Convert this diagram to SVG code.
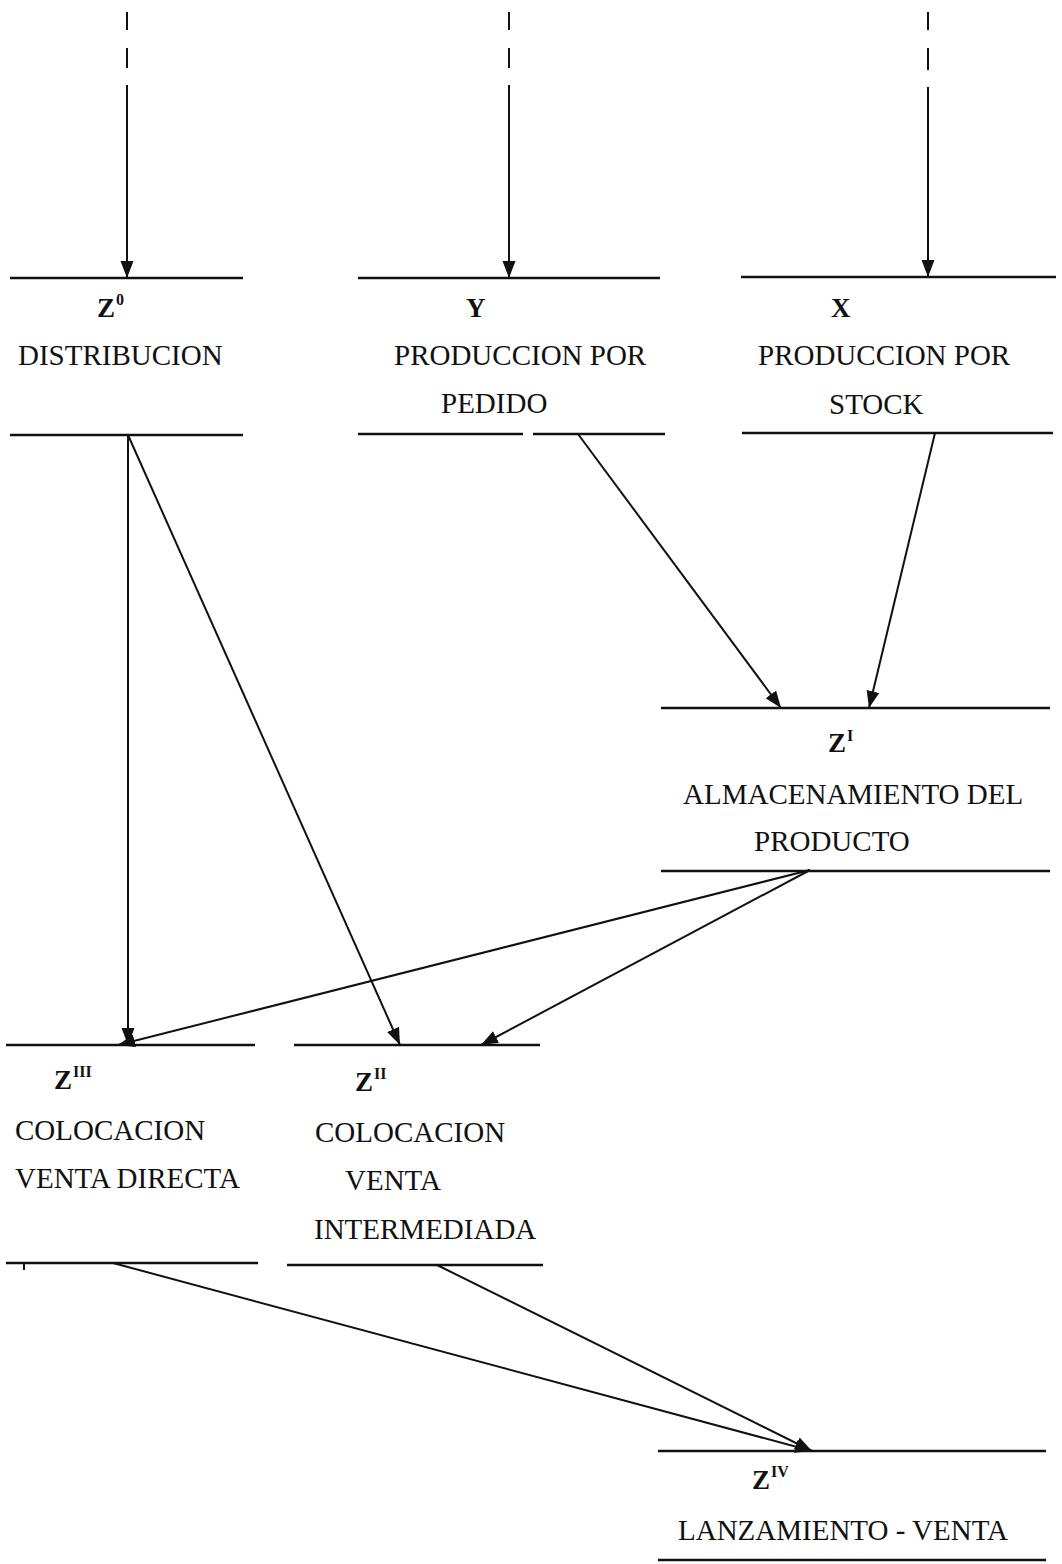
<svg xmlns="http://www.w3.org/2000/svg" width="1062" height="1564" viewBox="0 0 1062 1564">
<style>
.bar{stroke:#111;stroke-width:2.6;fill:none}
.con{stroke:#111;stroke-width:2;fill:none}
.lbl{font-family:"Liberation Serif","Times New Roman",serif;font-size:29px;fill:#111}
.id{font-family:"Liberation Serif","Times New Roman",serif;font-size:27px;font-weight:bold;fill:#111}
.sup{font-family:"Liberation Serif","Times New Roman",serif;font-size:16px;font-weight:bold;fill:#111}
</style>
<defs>
<marker id="ah" markerUnits="userSpaceOnUse" markerWidth="18" markerHeight="14" refX="17" refY="7" orient="auto">
<path d="M0,0.5 L17,7 L0,13.5 z" fill="#111"/>
</marker>
</defs>
<rect width="1062" height="1564" fill="#fff"/>

<g id="connectors">
<path class="con" d="M127,12 V30 M127,48 V68"/>
<line class="con" x1="127" y1="85" x2="127" y2="278" marker-end="url(#ah)"/>
<path class="con" d="M509,12 V30 M509,48 V68"/>
<line class="con" x1="509" y1="85" x2="509" y2="278" marker-end="url(#ah)"/>
<path class="con" d="M928,12 V30 M928,48 V70"/>
<line class="con" x1="928" y1="87" x2="928" y2="277" marker-end="url(#ah)"/>
<line class="con" x1="128" y1="435" x2="128" y2="1045" marker-end="url(#ah)"/>
<line class="con" x1="128" y1="435" x2="400" y2="1045" marker-end="url(#ah)"/>
<line class="con" x1="578" y1="434" x2="781" y2="708" marker-end="url(#ah)"/>
<line class="con" x1="935" y1="433" x2="869" y2="708" marker-end="url(#ah)"/>
<line class="con" x1="810" y1="870" x2="118" y2="1045" marker-end="url(#ah)"/>
<line class="con" x1="810" y1="870" x2="481" y2="1045" marker-end="url(#ah)"/>
<line class="con" x1="113" y1="1263" x2="812" y2="1451" marker-end="url(#ah)"/>
<line class="con" x1="437" y1="1265" x2="812" y2="1451" marker-end="url(#ah)"/>
</g>

<g id="node-z0">
<line class="bar" x1="10" y1="278" x2="243" y2="278"/>
<text class="id" x="97" y="317">Z</text><text class="sup" x="116" y="305">0</text>
<text class="lbl" x="18" y="365">DISTRIBUCION</text>
<line class="bar" x1="10" y1="435" x2="243" y2="435"/>
</g>

<g id="node-y">
<line class="bar" x1="358" y1="278" x2="660" y2="278"/>
<text class="id" x="466" y="317">Y</text>
<text class="lbl" x="394" y="365">PRODUCCION POR</text>
<text class="lbl" x="441" y="413">PEDIDO</text>
<line class="bar" x1="358" y1="434" x2="523" y2="434"/>
<line class="bar" x1="533" y1="434" x2="665" y2="434"/>
</g>

<g id="node-x">
<line class="bar" x1="741" y1="277" x2="1056" y2="277"/>
<text class="id" x="831" y="317">X</text>
<text class="lbl" x="758" y="365">PRODUCCION POR</text>
<text class="lbl" x="829" y="414">STOCK</text>
<line class="bar" x1="742" y1="433" x2="1053" y2="433"/>
</g>

<g id="node-z1">
<line class="bar" x1="661" y1="708" x2="1050" y2="708"/>
<text class="id" x="828" y="752">Z</text><text class="sup" x="847" y="741">I</text>
<text class="lbl" x="683" y="804">ALMACENAMIENTO DEL</text>
<text class="lbl" x="754" y="851">PRODUCTO</text>
<line class="bar" x1="661" y1="871" x2="1050" y2="871"/>
</g>

<g id="node-z3">
<line class="bar" x1="6" y1="1045" x2="255" y2="1045"/>
<text class="id" x="54" y="1089">Z</text><text class="sup" x="73" y="1077">III</text>
<text class="lbl" x="15" y="1140">COLOCACION</text>
<text class="lbl" x="15" y="1188">VENTA DIRECTA</text>
<line class="bar" x1="6" y1="1263" x2="258" y2="1263"/>
<line class="con" x1="24" y1="1263" x2="24" y2="1270"/>
</g>

<g id="node-z2">
<line class="bar" x1="294" y1="1045" x2="540" y2="1045"/>
<text class="id" x="355" y="1091">Z</text><text class="sup" x="374" y="1079">II</text>
<text class="lbl" x="315" y="1142">COLOCACION</text>
<text class="lbl" x="345" y="1190">VENTA</text>
<text class="lbl" x="314" y="1239">INTERMEDIADA</text>
<line class="bar" x1="287" y1="1265" x2="543" y2="1265"/>
</g>

<g id="node-z4">
<line class="bar" x1="658" y1="1451" x2="1046" y2="1451"/>
<text class="id" x="752" y="1489">Z</text><text class="sup" x="771" y="1477">IV</text>
<text class="lbl" x="678" y="1540">LANZAMIENTO - VENTA</text>
<line class="bar" x1="658" y1="1560" x2="1046" y2="1560"/>
</g>
</svg>
